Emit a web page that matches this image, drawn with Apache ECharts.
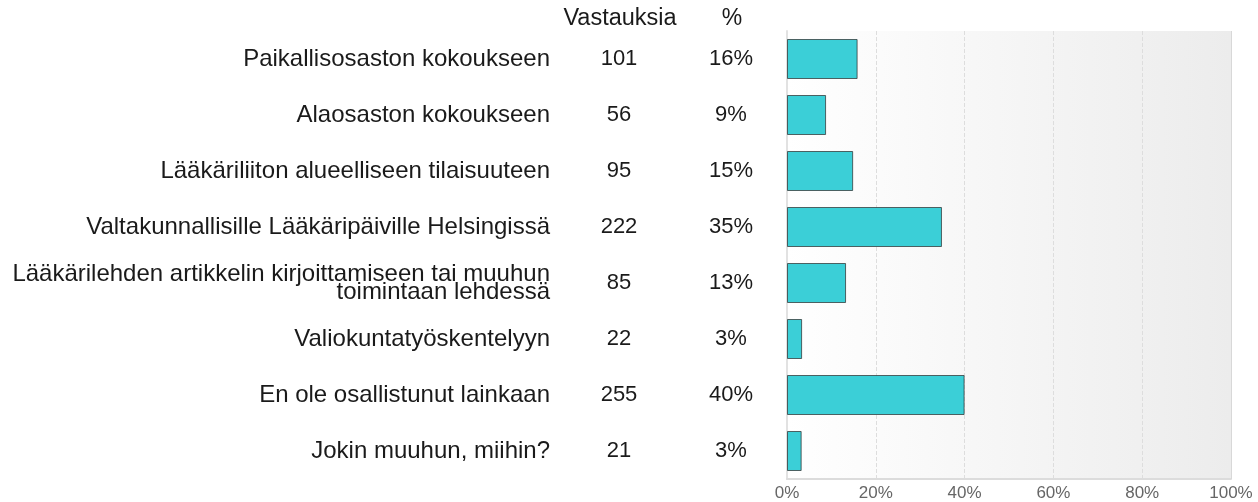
<!DOCTYPE html>
<html>
<head>
<meta charset="utf-8">
<script src="https://cdn.jsdelivr.net/npm/echarts@6/dist/echarts.min.js"></script>
<style>
  html, body { margin: 0; padding: 0; background: #fff; }
  #chart { width: 1258px; height: 502px; }
</style>
</head>
<body>
<div id="chart"></div>
<script>
const categories = [
  "Paikallisosaston kokoukseen",
  "Alaosaston kokoukseen",
  "Lääkäriliiton alueelliseen tilaisuuteen",
  "Valtakunnallisille Lääkäripäiville Helsingissä",
  "Lääkärilehden artikkelin kirjoittamiseen tai muuhun\ntoimintaan lehdessä",
  "Valiokuntatyöskentelyyn",
  "En ole osallistunut lainkaan",
  "Jokin muuhun, miihin?"
];
const counts = [101, 56, 95, 222, 85, 22, 255, 21];
const percents = [15.9, 8.8, 14.9, 34.9, 13.3, 3.4, 40.0, 3.3];
const xTicks = [0, 20, 40, 60, 80, 100];

const font = "Arial, 'Liberation Sans', sans-serif";
const pctLabels = percents.map((p) => Math.round(p) + "%");

const chart = echarts.init(document.getElementById("chart"));

function sideAxis(data, margin, align, size, extra) {
  return Object.assign({
    type: "category",
    inverse: true,
    position: "left",
    data: data,
    axisLine: { show: false },
    axisTick: { show: false },
    splitLine: { show: false },
    axisLabel: {
      margin: margin,
      align: align,
      color: "#1a1a1a",
      fontFamily: font,
      fontSize: size,
      padding: [4, 0, 0, 0]
    }
  }, extra || {});
}

const labelAxis = sideAxis(categories, 237, "right", 24, {
  axisLine: { show: true, lineStyle: { color: "#e2e2e2", width: 2 } }
});
labelAxis.axisLabel.lineHeight = 18;
labelAxis.axisLabel.padding = [0, 0, 6, 0];

chart.setOption({
  animation: false,
  grid: {
    left: 787,
    right: 27,
    top: 31,
    bottom: 23,
    show: true,
    borderWidth: 0,
    backgroundColor: new echarts.graphic.LinearGradient(0, 0, 1, 0, [
      { offset: 0, color: "#ffffff" },
      { offset: 1, color: "#ececec" }
    ])
  },
  graphic: [
    {
      type: "text", x: 620, y: 19,
      style: { text: "Vastauksia", font: "23.5px " + font, fill: "#1a1a1a", align: "center", verticalAlign: "middle" }
    },
    {
      type: "text", x: 732, y: 19,
      style: { text: "%", font: "23px " + font, fill: "#1a1a1a", align: "center", verticalAlign: "middle" }
    }
  ],
  xAxis: {
    type: "value",
    min: 0,
    max: 100,
    interval: 20,
    axisLine: { show: true, lineStyle: { color: "#dcdcdc", width: 2 } },
    axisTick: { show: false },
    axisLabel: {
      margin: 6,
      color: "#666",
      fontFamily: font,
      fontSize: 17,
      formatter: (v) => (xTicks.includes(v) ? v + "%" : "")
    },
    splitLine: { show: true, lineStyle: { color: "#dddddd", type: "dashed", width: 1 } }
  },
  yAxis: [
    labelAxis,
    sideAxis(counts.map(String), 168, "center", 22),
    sideAxis(pctLabels, 56, "center", 22)
  ],
  series: [
    {
      type: "bar",
      yAxisIndex: 0,
      data: percents,
      barWidth: 40,
      itemStyle: {
        color: "#3bcfd7",
        borderColor: "rgba(40,40,40,0.7)",
        borderWidth: 1
      },
      markLine: {
        silent: true,
        symbol: "none",
        label: { show: false },
        lineStyle: { color: "#d8d8d8", type: "solid", width: 1 },
        data: [{ xAxis: 100 }]
      }
    }
  ]
});
</script>
</body>
</html>
